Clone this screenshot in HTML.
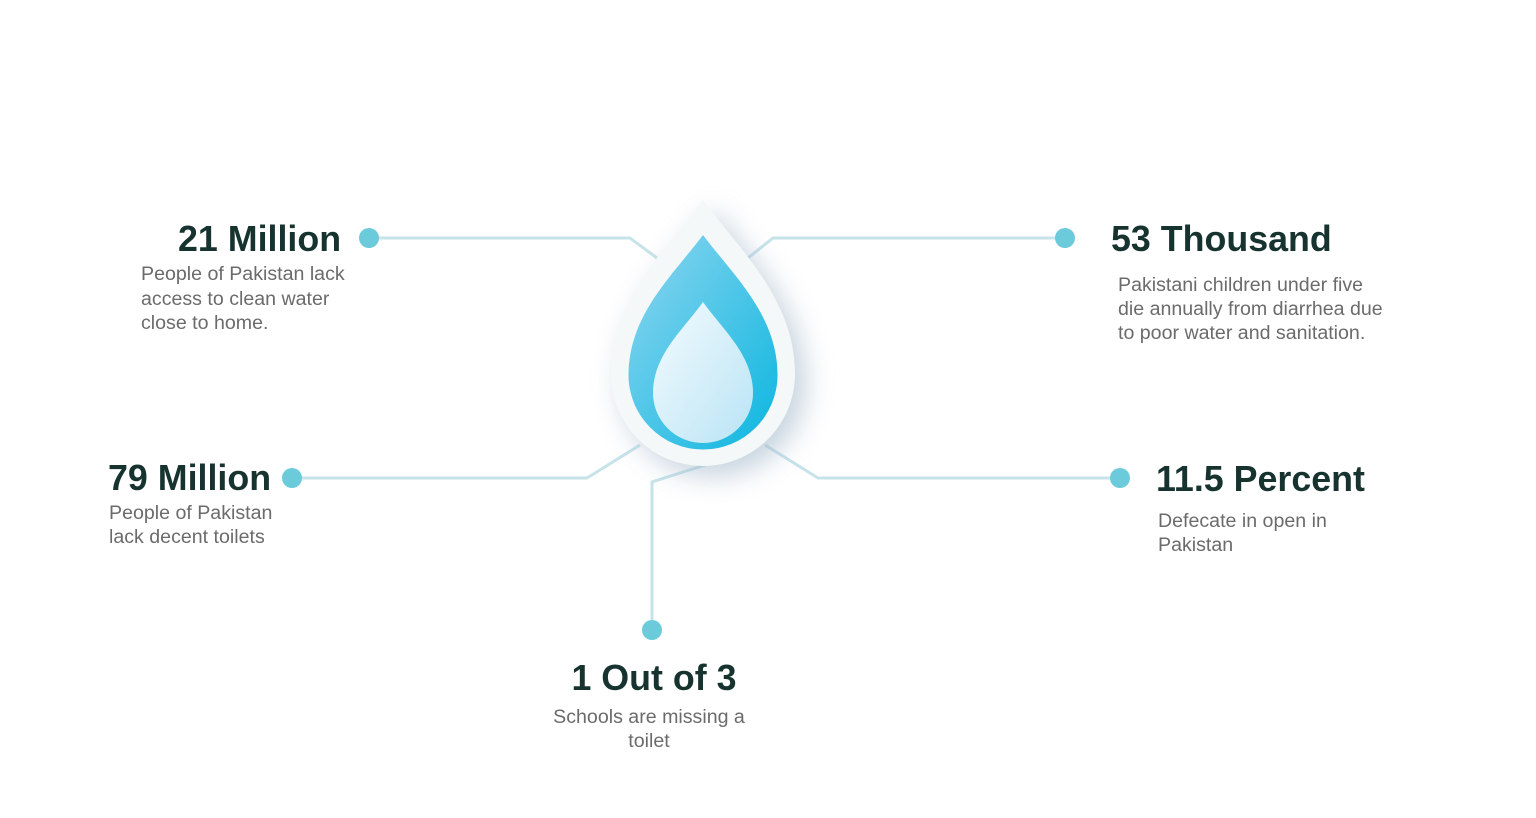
<!DOCTYPE html>
<html><head><style>
body{margin:0;background:#fff;}
svg text{font-family:"Liberation Sans",Arial,sans-serif;}
.t{font-weight:bold;font-size:35.8px;fill:#17332f;}
.d{font-size:19.6px;fill:#6b6b6b;}
</style></head><body>
<svg width="1536" height="813" viewBox="0 0 1536 813" xmlns="http://www.w3.org/2000/svg">
<defs>
<filter id="sh" x="-50%" y="-50%" width="200%" height="200%"><feGaussianBlur stdDeviation="14"/></filter>
<linearGradient id="bl" x1="0" y1="0" x2="1" y2="1"><stop offset="0" stop-color="#8fd6f0"/><stop offset="1" stop-color="#0bb6df"/></linearGradient>
<linearGradient id="in" x1="0" y1="0" x2="1" y2="1"><stop offset="0" stop-color="#f4fbfe"/><stop offset="1" stop-color="#b9e4f5"/></linearGradient>
</defs>
<g stroke="#c7e3ea" stroke-width="3" fill="none">
<polyline points="369,238 630,238 657,258"/>
<polyline points="1065,238 773,238 748,258"/>
<polyline points="292,478 587,478 640,445"/>
<polyline points="1120,478 818,478 765,445"/>
<polyline points="652,630 652,482 705,465"/>
</g>
<g fill="#6ccbdb">
<circle cx="369" cy="238" r="10"/><circle cx="1065" cy="238" r="10"/>
<circle cx="292" cy="478" r="10"/><circle cx="1120" cy="478" r="10"/>
<circle cx="652" cy="630" r="10"/>
</g>
<path d="M713,210 C750,260 805,310 805,384 A92,92 0 0 1 621,384 C621,310 676,260 713,210Z" fill="#9fb5c8" opacity="0.6" filter="url(#sh)"/>
<path d="M703,200 C740,250 795,300 795,374 A92,92 0 0 1 611,374 C611,300 666,250 703,200Z" fill="#f4f8f9"/>
<path d="M703,235 C733,275 777.5,315 777.5,375 A74.5,74.5 0 0 1 628.5,375 C628.5,315 673,275 703,235Z" fill="url(#bl)"/>
<path d="M703,302 C723,330 753,355 753,393 A50,50 0 0 1 653,393 C653,355 683,330 703,302Z" fill="url(#in)"/>
<text class="t" x="178" y="251">21 Million</text>
<text class="d" x="141" y="280">People of Pakistan lack</text>
<text class="d" x="141" y="305">access to clean water</text>
<text class="d" x="141" y="329">close to home.</text>
<text class="t" x="1111" y="251">53 Thousand</text>
<text class="d" x="1118" y="291">Pakistani children under five</text>
<text class="d" x="1118" y="315">die annually from diarrhea due</text>
<text class="d" x="1118" y="339">to  poor water and sanitation.</text>
<text class="t" x="108" y="490">79 Million</text>
<text class="d" x="109" y="519">People of Pakistan</text>
<text class="d" x="109" y="543">lack decent toilets</text>
<text class="t" x="1156" y="491">11.5 Percent</text>
<text class="d" x="1158" y="527">Defecate in open in</text>
<text class="d" x="1158" y="551">Pakistan</text>
<text class="t" x="654" y="690" text-anchor="middle">1 Out of 3</text>
<text class="d" x="649" y="723" text-anchor="middle">Schools are missing a</text>
<text class="d" x="649" y="747" text-anchor="middle">toilet</text>
</svg>
</body></html>
